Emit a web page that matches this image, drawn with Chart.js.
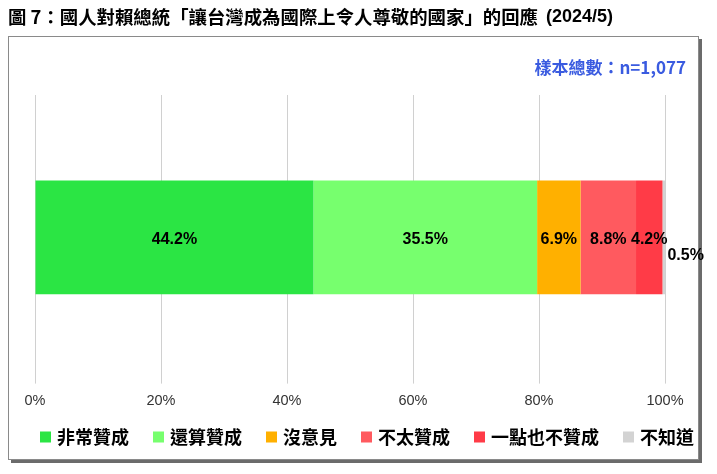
<!DOCTYPE html>
<html><head><meta charset="utf-8">
<script src="https://cdn.jsdelivr.net/npm/chart.js@4/dist/chart.umd.min.js"></script>
<style>html,body{margin:0;padding:0;background:#fff;}canvas{display:block;}</style>
</head><body>
<div style="width:717px;height:474px;position:relative;"><canvas id="c" width="717" height="474"></canvas></div>
<script>
const categories = ["國人對賴總統「讓台灣成為國際上令人尊敬的國家」的回應"];
const seriesNames = ["非常贊成","還算贊成","沒意見","不太贊成","一點也不贊成","不知道"];
const seriesValues = [44.2, 35.5, 6.9, 8.8, 4.2, 0.5];
const seriesColors = ["#2BE544","#77FF6E","#FFB000","#FF5A5F","#FF3B47","#D3D3D3"];
const tickValues = [0,20,40,60,80,100];
const titleText = "圖 7：國人對賴總統「讓台灣成為國際上令人尊敬的國家」的回應";
const titleDate = "(2024/5)";
const sampleText = "樣本總數：n=1,077";

const CJK = '"Noto Sans CJK TC","Noto Sans CJK SC",sans-serif';
const LAT = '"Liberation Sans",Arial,sans-serif';

const framePlugin = {
  id:'frame',
  beforeDraw(chart){
    const ctx = chart.ctx;
    ctx.save();
    ctx.fillStyle='#fff';
    ctx.fillRect(0,0,chart.width,chart.height);
    ctx.fillStyle='#6b6b6b';
    ctx.fillRect(11,39,691,424);
    ctx.fillStyle='#fff';
    ctx.fillRect(8,36,691,424);
    ctx.strokeStyle='#8a8a8a';
    ctx.lineWidth=1;
    ctx.strokeRect(8.5,36.5,690,423);
    ctx.fillStyle='#000';
    ctx.font='bold 18.4px '+CJK;
    ctx.textBaseline='middle';
    ctx.textAlign='left';
    ctx.fillText(titleText,8,17);
    const w=ctx.measureText(titleText).width;
    ctx.font='bold 18px '+LAT;
    ctx.fillText(titleDate,8+w+8,17);
    ctx.fillStyle='#3A5BE0';
    ctx.font='bold 17px '+CJK;
    ctx.textAlign='right';
    ctx.fillText(sampleText,686,68);
    ctx.restore();
  },
  afterDraw(chart){
    const ctx=chart.ctx;
    ctx.save();
    ctx.font='bold 18px '+CJK;
    ctx.textBaseline='middle';
    ctx.textAlign='left';
    const y=437;
    const gap=24, box=11, inner=6;
    let x=40;
    chart.data.datasets.forEach((d,i)=>{
      const w=ctx.measureText(d.label).width;
      ctx.fillStyle=d.backgroundColor;
      ctx.fillRect(x,y-box/2,box,box);
      ctx.fillStyle='#000';
      ctx.fillText(d.label,x+box+inner,y);
      x+=box+inner+w+gap;
    });
    ctx.restore();
  }
};
const labelPlugin = {
  id:'labels',
  afterDatasetsDraw(chart){
    const ctx=chart.ctx;
    ctx.save();
    ctx.fillStyle='#000';
    ctx.font='bold 16px '+LAT;
    ctx.textAlign='center';
    ctx.textBaseline='middle';
    chart.data.datasets.forEach((ds,i)=>{
      const el=chart.getDatasetMeta(i).data[0];
      const txt=ds.data[0].toFixed(1)+'%';
      if(i===seriesValues.length-1){
        ctx.fillText(txt, el.x+20, el.y+18);
      } else {
        ctx.fillText(txt,(el.x+el.base)/2, el.y+2);
      }
    });
    ctx.restore();
  }
};

new Chart(document.getElementById('c'),{
  type:'bar',
  data:{
    labels:categories,
    datasets:seriesNames.map((n,i)=>({label:n,data:[seriesValues[i]],backgroundColor:seriesColors[i],borderWidth:0,categoryPercentage:1,barPercentage:0.4}))
  },
  options:{
    indexAxis:'y',
    responsive:false,
    animation:false,
    devicePixelRatio:1,
    layout:{padding:{left:35,right:52,top:95,bottom:55}},
    scales:{
      x:{stacked:true,min:0,max:100,
        afterBuildTicks(s){s.ticks=tickValues.map(v=>({value:v}));},
        grid:{color:'#d0d0d0',lineWidth:1,drawTicks:true,tickLength:4},
        border:{display:false},
        ticks:{color:'#333',font:{family:LAT,size:14.5},padding:9,callback:v=>v+'%'}
      },
      y:{stacked:true,display:false}
    },
    plugins:{
      legend:{display:false},
      tooltip:{enabled:false},
      title:{display:false}
    }
  },
  plugins:[framePlugin,labelPlugin]
});
</script>
</body></html>
